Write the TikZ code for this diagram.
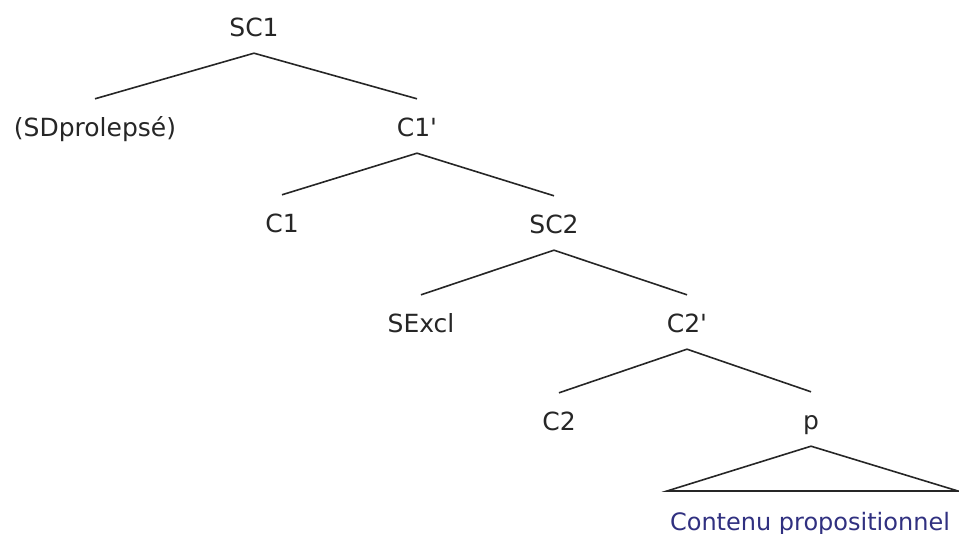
\documentclass[tikz,border=0pt]{standalone}
\usepackage{fontspec}
\setmainfont{DejaVu Sans}
\usepackage{tikz}
\definecolor{contblue}{RGB}{48,48,128}
\tikzset{
  lab/.style={anchor=base, text height=28pt, text depth=6pt, inner xsep=1pt, inner ysep=10pt,
              font=\fontsize{25}{30}\selectfont, text=black!85},
  branch/.style={line width=1.6pt, black!85}
}

\begin{document}
\begin{tikzpicture}[x=1pt,y=-1pt]
    \useasboundingbox (0,0) rectangle (959,534);
    \node [lab] (sc1) at (254,37) {SC1};
    \node [lab] (sdp) at (95,137) {(SDprolepsé)};
    \node [lab] (c1bar) at (417,137) {C1\textquotesingle};
    \node [lab] (c1) at (282,233) {C1};
    \node [lab] (sc2) at (554,234) {SC2};
    \node [lab] (sexcl) at (421,333) {SExcl};
    \node [lab] (c2bar) at (687,333) {C2\textquotesingle};
    \node [lab] (c2) at (559,431) {C2};
    \node [lab] (p) at (811,430) {p};
    \node [lab, text=contblue, font=\fontsize{24}{30}\selectfont] (cont) at (810,530) {Contenu propositionnel};
    \coordinate (baseL) at (667,491);
    \coordinate (baseR) at (958,491);
    \draw [branch] (sdp.north) -- (sc1.south) -- (c1bar.north);
    \draw [branch] (c1.north) -- (c1bar.south) -- (sc2.north);
    \draw [branch] (sexcl.north) -- (sc2.south) -- (c2bar.north);
    \draw [branch] (c2.north) -- (c2bar.south) -- (p.north);
    \draw [branch] (p.south) -- (baseL) -- (baseR) -- cycle;
\end{tikzpicture}
\end{document}
